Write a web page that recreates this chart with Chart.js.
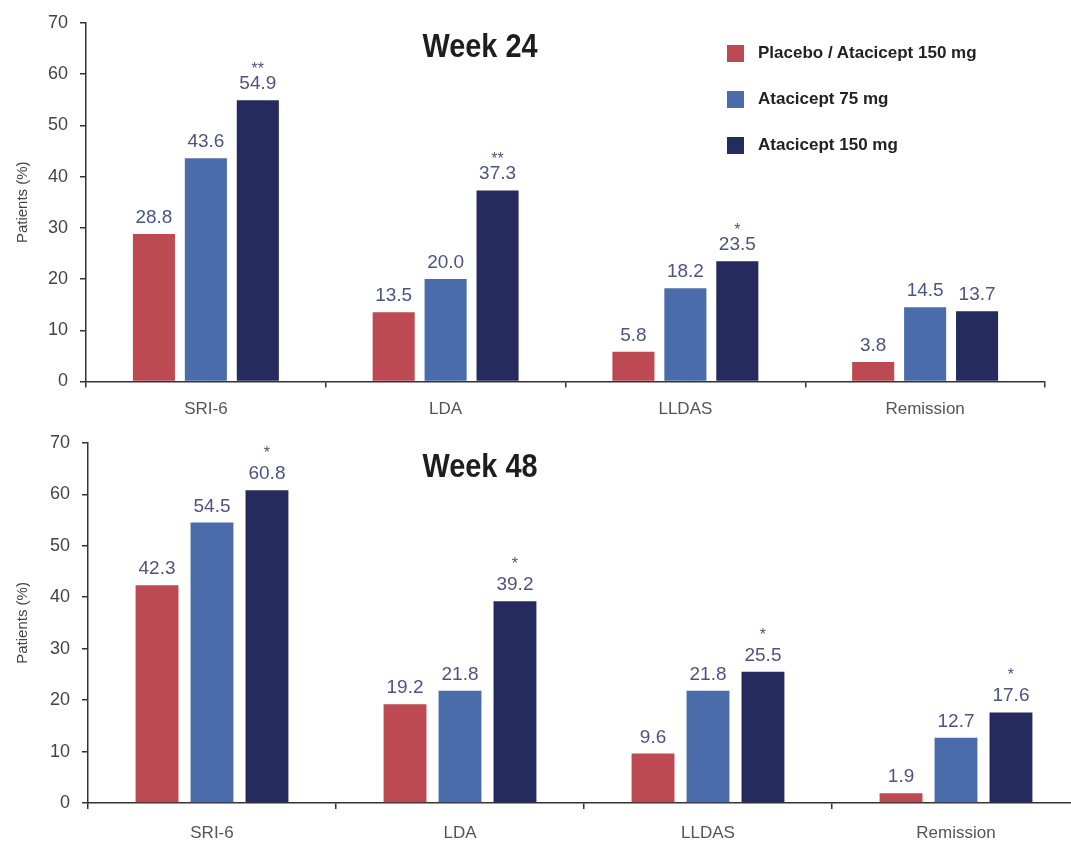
<!DOCTYPE html>
<html>
<head>
<meta charset="utf-8">
<script src="https://cdn.jsdelivr.net/npm/chart.js@4.4.1/dist/chart.umd.min.js"></script>
<style>
  html, body { margin: 0; padding: 0; background: #fff; overflow: hidden; width: 1071px; height: 841px; }
  .panel { position: absolute; left: 0; width: 1100px; }
  .title { position: absolute; left: 380px; width: 200px; text-align: center; font: bold 34px "Liberation Sans", Arial, sans-serif; line-height: 34px; color: #1e1e1e; transform: scaleX(0.85); }
  #legend { position: absolute; left: 727px; top: 44px; }
  #legend .row { display: flex; align-items: center; height: 18px; margin-bottom: 28px; }
  #legend .box { width: 17px; height: 17px; margin-right: 14px; }
  #legend .txt { font: bold 17px "Liberation Sans", Arial, sans-serif; color: #222; white-space: nowrap; }
</style>
</head>
<body>
<div class="panel" style="top:0;height:420px"><canvas id="chart24"></canvas></div>
<div class="panel" style="top:420px;height:421px"><canvas id="chart48"></canvas></div>
<div class="title" style="top:28px">Week 24</div>
<div class="title" style="top:448px">Week 48</div>
<div id="legend"></div>
<script>
const categories = ['SRI-6', 'LDA', 'LLDAS', 'Remission'];
const seriesNames = ['Placebo / Atacicept 150 mg', 'Atacicept 75 mg', 'Atacicept 150 mg'];
const seriesColors = ['#bd4a52', '#4a6cab', '#262b5e'];
const yTicks = [0, 10, 20, 30, 40, 50, 60, 70];

// Week 24
const week24Placebo = [28.8, 13.5, 5.8, 3.8];
const week24Ata75 = [43.6, 20.0, 18.2, 14.5];
const week24Ata150 = [54.9, 37.3, 23.5, 13.7];
const week24Stars150 = ['**', '**', '*', ''];

// Week 48
const week48Placebo = [42.3, 19.2, 9.6, 1.9];
const week48Ata75 = [54.5, 21.8, 21.8, 12.7];
const week48Ata150 = [60.8, 39.2, 25.5, 17.6];
const week48Stars150 = ['*', '*', '*', '*'];

const labelColor = '#4d5384';

// value labels + significance stars above each bar
const barLabels = {
  id: 'barLabels',
  afterDatasetsDraw(chart, args, opts) {
    const ctx = chart.ctx;
    ctx.save();
    ctx.textAlign = 'center';
    ctx.textBaseline = 'alphabetic';
    ctx.fillStyle = labelColor;
    chart.data.datasets.forEach((ds, i) => {
      const meta = chart.getDatasetMeta(i);
      meta.data.forEach((bar, j) => {
        const yb = bar.y - 11;
        ctx.font = '19px "Liberation Sans", Arial, sans-serif';
        ctx.fillText(ds.data[j].toFixed(1), bar.x, yb);
        const s = ds.stars ? ds.stars[j] : '';
        if (s) {
          ctx.font = '16px "Liberation Sans", Arial, sans-serif';
          ctx.fillText(s, bar.x, yb - opts.starGap);
        }
      });
    });
    ctx.restore();
  }
};

function makeChart(id, placebo, ata75, ata150, stars150, cfg) {
  const datasets = [placebo, ata75, ata150].map((d, i) => ({
    label: seriesNames[i],
    data: d,
    backgroundColor: seriesColors[i],
    borderWidth: 0,
    categoryPercentage: cfg.catPct,
    barPercentage: cfg.barPct,
    stars: i === 2 ? stars150 : null
  }));
  return new Chart(document.getElementById(id), {
    type: 'bar',
    data: { labels: categories, datasets: datasets },
    plugins: [barLabels],
    options: {
      responsive: true,
      maintainAspectRatio: false,
      animation: false,
      layout: { padding: { top: cfg.top, right: cfg.right, left: 0, bottom: 0 } },
      plugins: {
        legend: { display: false },
        tooltip: { enabled: false },
        barLabels: { starGap: cfg.starGap }
      },
      scales: {
        x: {
          grid: { offset: true, drawOnChartArea: false, tickLength: 6, color: '#333', lineWidth: 1.5 },
          border: { color: '#333', width: 1.5 },
          ticks: { padding: cfg.xPad, color: '#555', font: { family: '"Liberation Sans", Arial, sans-serif', size: 17 } },
          afterFit(scale) { scale.height = cfg.xHeight; }
        },
        y: {
          min: 0,
          max: 70,
          afterBuildTicks(scale) { scale.ticks = yTicks.map(v => ({ value: v })); },
          grid: { drawOnChartArea: false, tickLength: 6, color: '#333', lineWidth: 1.5 },
          border: { color: '#333', width: 1.5 },
          ticks: { padding: 12, color: '#444', font: { family: '"Liberation Sans", Arial, sans-serif', size: 18 } },
          title: {
            display: true,
            text: 'Patients (%)',
            color: '#444',
            padding: { top: 14, bottom: 0 },
            font: { family: '"Liberation Sans", Arial, sans-serif', size: 15 }
          },
          afterFit(scale) { scale.width = cfg.yWidth; }
        }
      }
    }
  });
}

makeChart('chart24', week24Placebo, week24Ata75, week24Ata150, week24Stars150,
  { top: 23, right: 55, xHeight: 38.5, xPad: 12, yWidth: 86, catPct: 0.65, barPct: 0.81, starGap: 15 });
makeChart('chart48', week48Placebo, week48Ata75, week48Ata150, week48Stars150,
  { top: 16, right: 20, xHeight: 38, xPad: 14, yWidth: 88, catPct: 0.665, barPct: 0.78, starGap: 21 });

// legend built from the series
const legend = document.getElementById('legend');
seriesNames.forEach((name, i) => {
  const row = document.createElement('div');
  row.className = 'row';
  row.innerHTML = '<div class="box" style="background:' + seriesColors[i] + '"></div><div class="txt">' + name + '</div>';
  legend.appendChild(row);
});
</script>
</body>
</html>
